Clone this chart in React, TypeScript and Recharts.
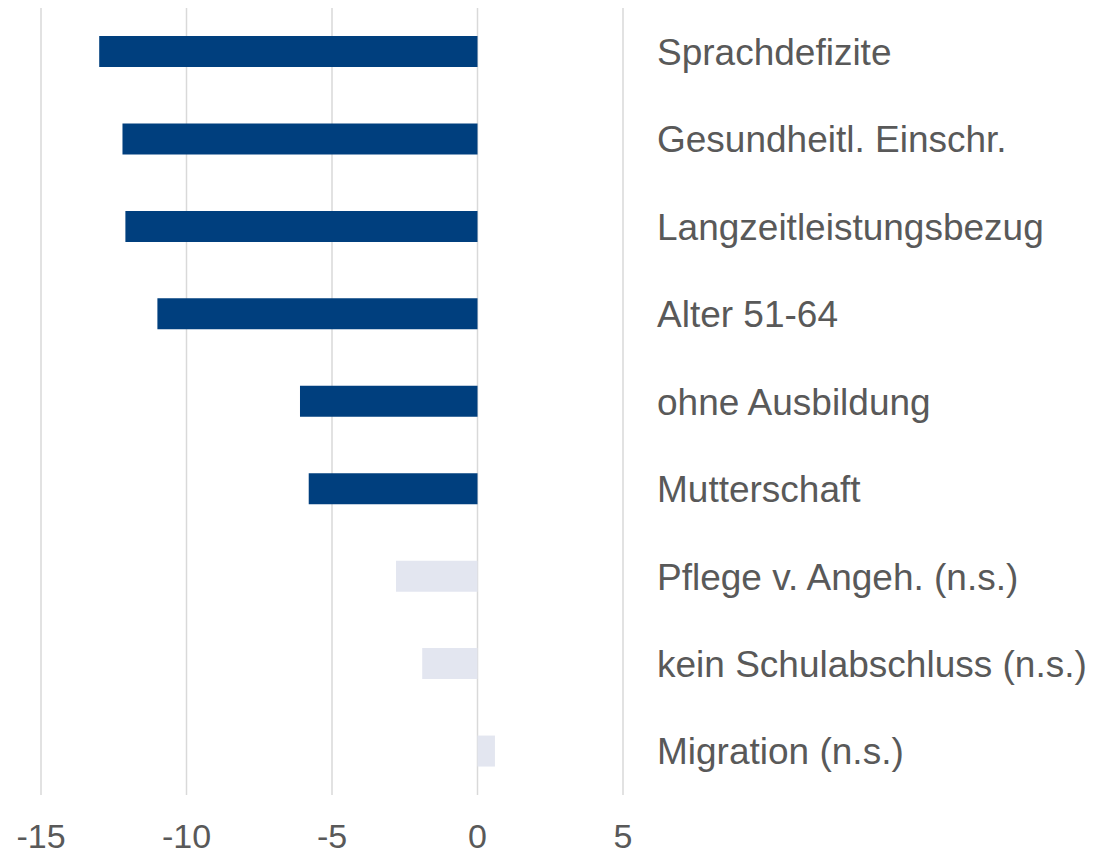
import { Bar, BarChart, CartesianGrid, Cell, XAxis, YAxis } from "recharts";

const categories = [
  "Sprachdefizite",
  "Gesundheitl. Einschr.",
  "Langzeitleistungsbezug",
  "Alter 51-64",
  "ohne Ausbildung",
  "Mutterschaft",
  "Pflege v. Angeh. (n.s.)",
  "kein Schulabschluss (n.s.)",
  "Migration (n.s.)",
];
const effects = [-13.0, -12.2, -12.1, -11.0, -6.1, -5.8, -2.8, -1.9, 0.6];
const significant = [true, true, true, true, true, true, false, false, false];
const xTicks = [-15, -10, -5, 0, 5];

const FONT = '"Liberation Sans", Arial, sans-serif';
const TEXT = "#595959";

export default function App() {
  const data = categories.map((name, i) => ({ name, value: effects[i] }));
  return (
    <div style={{ position: "absolute", left: 0, top: 0, background: "#fff" }}>
      <BarChart
        width={1095}
        height={856}
        data={data}
        layout="vertical"
        margin={{ top: 8, right: 0, bottom: 0, left: 41 }}
        barCategoryGap={0}
      >
        <CartesianGrid horizontal={false} stroke="#d9d9d9" strokeWidth={1.5} />
        <XAxis
          type="number"
          domain={[-15, 5]}
          ticks={xTicks}
          allowDataOverflow
          axisLine={false}
          tickLine={false}
          height={61}
          tickMargin={23}
          tick={{ fill: TEXT, fontSize: 34, fontFamily: FONT }}
        />
        <YAxis
          type="category"
          dataKey="name"
          orientation="right"
          width={472}
          axisLine={false}
          tickLine={false}
          tickMargin={28}
          interval={0}
          tick={{ fill: TEXT, fontSize: 37, fontFamily: FONT, textAnchor: "start" }}
        />
        <Bar dataKey="value" barSize={31} isAnimationActive={false}>
          {data.map((d, i) => (
            <Cell key={d.name} fill={significant[i] ? "#003f7e" : "#e3e6f0"} />
          ))}
        </Bar>
      </BarChart>
    </div>
  );
}
